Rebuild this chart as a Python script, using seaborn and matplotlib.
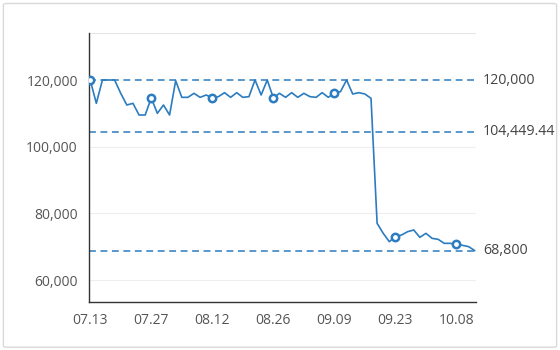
import matplotlib
matplotlib.use("Agg")
import matplotlib.pyplot as plt
import seaborn as sns
import pandas as pd
import numpy as np
from matplotlib.patches import FancyBboxPatch

prices = [
    120000, 113000, 120000, 120000, 120000, 116000, 112500, 113000, 109500, 109500,
    114600, 110000, 112500, 109500, 119800, 114800, 114800, 116000, 114800, 115500,
    114600, 115000, 116200, 114800, 116200, 114800, 115000, 120000, 115500, 120000,
    114600, 116000, 114800, 116200, 114800, 116000, 115000, 114800, 116200, 114800,
    116100, 116500, 120000, 115800, 116200, 115800, 114500, 77000, 74000, 71500,
    73000, 73500, 74500, 75000, 72800, 74000, 72500, 72200, 71000, 71000,
    70700, 70400, 70000, 68800,
]
tick_labels = ["07.13", "07.27", "08.12", "08.26", "09.09", "09.23", "10.08"]
tick_every = 10
ref_values = [120000, 104449.44, 68800]
ref_labels = ["120,000", "104,449.44", "68,800"]
y_ticks = [60000, 80000, 100000, 120000]

df = pd.DataFrame({"idx": range(len(prices)), "price": prices})
marks = df[df["idx"] % tick_every == 0]

sns.set_theme(style="white")
plt.rcParams["font.family"] = ["Open Sans", "DejaVu Sans"]

fig = plt.figure(figsize=(5.6, 3.5), dpi=100)
ax = fig.add_axes([89/560, 1-302/350, (476-89)/560, (302-33)/350])

blue = "#2b7cc0"
for v in y_ticks[:-1]:
    ax.axhline(v, color="#eeeeee", lw=0.8, zorder=0)
ax.axhline(134100, color="#e6e6e6", lw=0.8, zorder=0)

for v, lab in zip(ref_values, ref_labels):
    ax.axhline(v, color=blue, lw=1.1, ls=(0, (4.5, 3)), zorder=1)
    ax.text(1.018, v, lab, transform=ax.get_yaxis_transform(), ha="left",
            va="center", fontsize=10.3, color="#444444")

sns.lineplot(data=df, x="idx", y="price", ax=ax, color=blue, lw=1.2, zorder=3)
sns.scatterplot(data=marks, x="idx", y="price", ax=ax, s=28, color="white",
                edgecolor=blue, linewidth=1.8, zorder=4)

ax.set_xlim(-0.2, len(prices) - 1 + 0.2)
ax.set_ylim(53400, 134100)
ax.set_yticks(y_ticks)
ax.set_yticklabels([f"{v:,}" for v in y_ticks])
ax.set_xticks(list(range(0, len(prices), tick_every)))
ax.set_xticklabels(tick_labels)
ax.set_xlabel("")
ax.set_ylabel("")
ax.tick_params(axis="both", length=0, labelsize=10, colors="#555555", pad=8)
for s in ["top", "right"]:
    ax.spines[s].set_visible(False)
for s in ["left", "bottom"]:
    ax.spines[s].set_color("#333333")
    ax.spines[s].set_linewidth(1.0)

border = FancyBboxPatch((0.006, 0.008), 0.988, 0.982, boxstyle="round,pad=0,rounding_size=0.005",
                        transform=fig.transFigure, fill=False, edgecolor="#d9d9d9", lw=1.0)
fig.patches.append(border)

fig.savefig("out.png", dpi=100)
